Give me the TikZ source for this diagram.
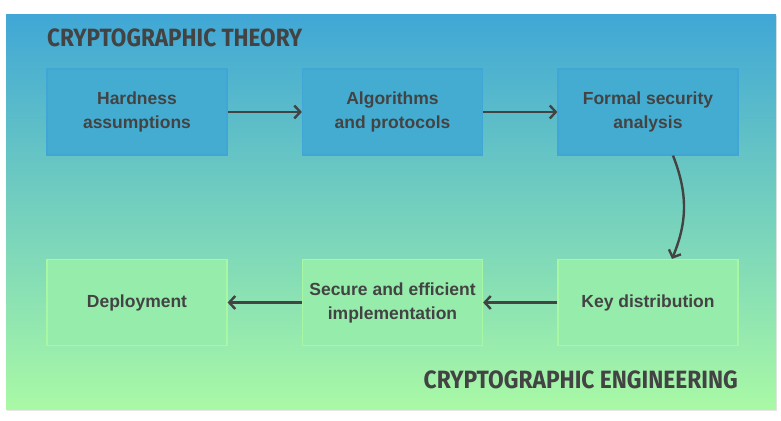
\documentclass[tikz,border=0pt]{standalone}
\usepackage{fontspec}
\setmainfont{Liberation Sans}
\newfontfamily\headfont{Fira Sans}
\usepackage{xcolor}
\usetikzlibrary{arrows.meta,shadows}

\begin{document}
\begin{tikzpicture}[x=1pt,y=1pt,
  theorybox/.style={rectangle,minimum width=180,minimum height=86,align=center,
    fill=blueboxfill,draw=blueboxline,line width=1.2pt,text=inkgray,
    font=\fontsize{17.5}{24}\selectfont\bfseries},
  engbox/.style={theorybox,fill=greenboxfill,draw=greenboxline},
  flow/.style={draw=inkgray,line width=2.4pt,-{Straight Barb[length=6pt,width=13pt]}},
  headline/.style={text=inkgray,inner sep=0pt,font=\headfont\fontsize{25}{28}\selectfont\bfseries}]
\definecolor{inkgray}{HTML}{434343}
\definecolor{skytop}{HTML}{40A7D6}
\definecolor{skymid}{HTML}{70D2C2}
\definecolor{grassbot}{HTML}{A9F9A5}
\definecolor{blueboxfill}{HTML}{44ACD1}
\definecolor{blueboxline}{HTML}{3FA6D6}
\definecolor{greenboxfill}{HTML}{96ECAB}
\definecolor{greenboxline}{HTML}{A8F7A4}
\useasboundingbox (0,0) rectangle (781,420);
\path[top color=skytop,middle color=skymid,bottom color=grassbot,
  drop shadow={opacity=0.2,shadow xshift=1pt,shadow yshift=-1.5pt}]
  (6,11) rectangle (776,405);
\node[headline,anchor=west] (theory) at (47,382) {\scalebox{0.9}[1]{CRYPTOGRAPHIC THEORY}};
\node[headline,anchor=east] (engineering) at (738,40) {\scalebox{0.91}[1]{CRYPTOGRAPHIC ENGINEERING}};
% theory row
\node[theorybox] (hardness) at (137,308) {Hardness\\assumptions};
\node[theorybox] (algorithms) at (392.5,308) {Algorithms\\and protocols};
\node[theorybox] (formal) at (648,308) {Formal security\\analysis};
% engineering row
\node[engbox] (keydist) at (648,117.5) {Key distribution};
\node[engbox] (implementation) at (392.5,117.5) {Secure and efficient\\implementation};
\node[engbox] (deployment) at (137,117.5) {Deployment};
\draw[flow] (hardness) -- (algorithms);
\draw[flow] (algorithms) -- (formal);
\draw[flow] ([xshift=25]formal.south) to[bend left=22] ([xshift=24]keydist.north);
\draw[flow] (keydist) -- (implementation);
\draw[flow] (implementation) -- (deployment);
\end{tikzpicture}
\end{document}
